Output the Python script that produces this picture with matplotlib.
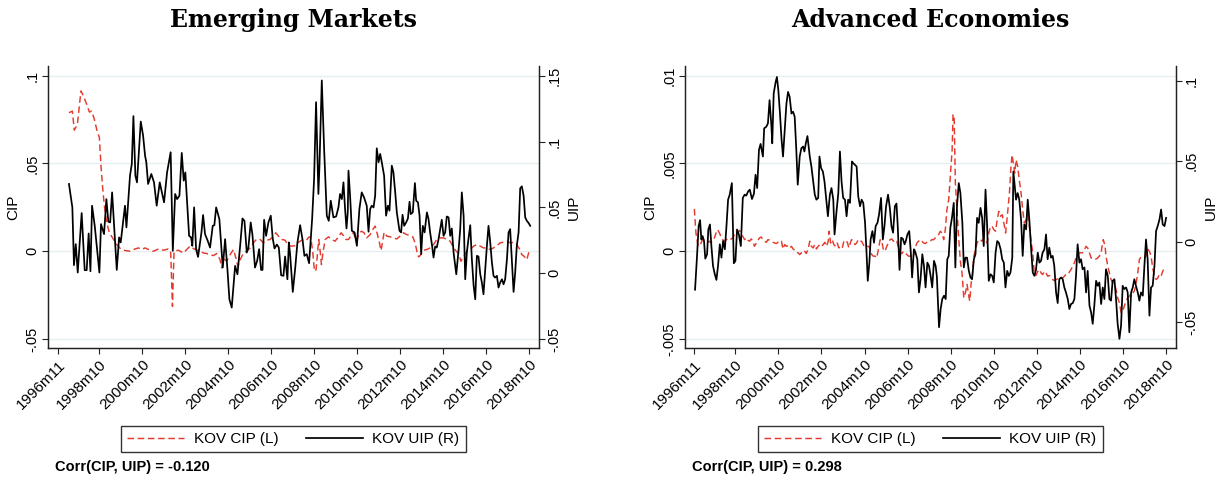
import numpy as np
import matplotlib
matplotlib.use("Agg")
import matplotlib.pyplot as plt

# ---------------- data (months since 1996m11) ----------------
xtick_months = [0, 23, 47, 71, 95, 119, 143, 167, 191, 215, 239, 263]
xtick_labels = ["1996m11", "1998m10", "2000m10", "2002m10", "2004m10", "2006m10",
                "2008m10", "2010m10", "2012m10", "2014m10", "2016m10", "2018m10"]

# Emerging markets: KOV CIP (left axis)
em_cip_m = [6.1, 8.0, 9.1, 10.8, 12.8, 14.2, 16.0, 17.5, 18.8, 20.3, 21.6, 23.1, 24.0, 25.0, 25.9,
            27.2, 28.7, 30.5, 32.8, 35.0, 37.4, 40.2, 43.0, 44.9, 46.7, 48.6, 50.5, 53.3, 56.1,
            58.8, 61.6, 62.9, 63.9, 64.8, 67.2, 70.0, 71.9, 73.7, 76.0, 78.4, 81.2, 84.0,
            84.9, 86.8, 88.6, 90.5, 91.4, 92.7, 94.2, 96.1, 98.0, 99.3, 100.4, 101.7, 103.6,
            105.4, 107.3, 109.1, 111.0, 112.9, 114.7, 116.6, 118.4, 120.3, 121.6, 123.1, 125.0,
            126.8, 128.7, 130.5, 132.4, 134.3, 136.1, 138.0, 139.3, 140.2, 141.2, 142.3, 143.2,
            144.1, 144.9, 145.6, 146.4, 147.1, 147.9, 149.2, 151.0, 152.9, 154.7, 156.6, 158.1,
            159.4, 160.7, 162.2, 163.7, 164.9, 166.8, 168.1, 169.6, 170.9, 172.4,
            174.3, 175.8, 177.1, 178.4, 179.5, 180.4, 181.4, 182.1, 183.6, 185.5, 187.3, 189.2,
            191.0, 192.9, 194.7, 196.6, 198.1, 199.4, 200.4, 201.3, 202.2, 204.1, 206.0, 207.8,
            209.7, 211.5, 213.4, 215.3, 217.1, 219.0, 220.9, 222.4, 223.7, 225.0, 226.5, 228.3,
            230.2, 232.1, 233.9, 235.8, 237.6, 239.5, 241.3, 243.2, 245.1, 246.9, 248.8, 250.7,
            252.5, 254.4, 256.2, 257.7, 259.0, 260.3, 261.8, 262.8, 263.7]
em_cip_v = [0.0789, 0.0798, 0.0690, 0.0722, 0.0913, 0.0884, 0.0837, 0.0793, 0.0798, 0.0751, 0.0694,
            0.0646, 0.0485, 0.0352, 0.0257, 0.0162, 0.0105, 0.0076, 0.0038, 0.0013, 0.0004, 0.0,
            0.0013, 0.0019, 0.0010, 0.0019, 0.0010, 0.0, 0.0013, 0.0006, 0.0013, 0.0, -0.0314, 0.0,
            0.0006, -0.0010, 0.0010, 0.0029, 0.0013, 0.0004, -0.0010, -0.0015,
            -0.0019, -0.0025, -0.0013, -0.0048, -0.0095, -0.0044, -0.0057, -0.0019, 0.0010, -0.0038,
            -0.0086, -0.0048, -0.0010, 0.0, 0.0019, 0.0048, 0.0070, 0.0067, 0.0048, 0.0063, 0.0067,
            0.0086, 0.0105, 0.0086, 0.0067, 0.0063, 0.0032, 0.0029, 0.0032, 0.0051, 0.0063, 0.0057,
            0.0070, 0.0082, 0.0076, -0.0010, -0.0114, -0.0105, -0.0010, 0.0067, 0.0, -0.0076,
            -0.0010, 0.0067, 0.0082, 0.0067, 0.0057, 0.0082, 0.0105, 0.0089, 0.0067, 0.0067, 0.0089,
            0.0105, 0.0057, 0.0105, 0.0114, 0.0105, 0.0076,
            0.0095, 0.0124, 0.0143, 0.0095, 0.0048, 0.0004, 0.0067, 0.0108, 0.0086, 0.0082, 0.0076,
            0.0070, 0.0086, 0.0105, 0.0095, 0.0089, 0.0082, 0.0048, 0.0, -0.0032, -0.0025, 0.0006,
            0.0010, 0.0019, 0.0038, 0.0067, 0.0076, 0.0076, 0.0067, 0.0057, 0.0019, 0.0, -0.0013,
            -0.0057, -0.0029, 0.0, 0.0010, 0.0029, 0.0038, 0.0029, 0.0019, 0.0019, 0.0010, 0.0019,
            0.0032, 0.0048, 0.0051, 0.0057, 0.0048, 0.0051, 0.0038, 0.0013, -0.0019, -0.0029,
            -0.0048, -0.0010, 0.0]

# Emerging markets: KOV UIP (right axis)
em_uip_m = [6.1, 8.0, 8.9, 9.9, 11.0, 13.2, 14.9, 16.0, 17.1, 18.1, 19.0, 20.5, 23.1, 24.0, 25.7,
            27.0, 28.1, 29.1, 30.2, 32.8, 34.1, 35.0, 37.4, 38.2, 40.2, 41.2, 42.1, 43.2, 44.1,
            46.2, 47.5, 48.6, 49.3, 50.3, 52.1, 53.6, 55.1, 56.8, 59.2, 60.9, 62.9, 64.1, 65.4,
            66.5, 67.8, 69.1, 70.2, 71.1, 73.2, 74.3, 75.0, 76.0, 77.1, 78.2, 80.1, 81.0, 82.1,
            83.6, 84.9,
            86.4, 87.3, 88.3, 90.1, 92.0, 93.3, 94.6, 95.7, 97.0, 98.9, 100.2, 101.7, 103.0, 104.1,
            105.4, 106.3, 107.6, 108.6, 110.0, 111.2, 112.3, 113.4, 114.2, 115.1, 116.2, 117.5,
            118.8, 119.9, 120.9, 122.2, 123.3, 124.6, 125.9, 126.8, 128.1, 128.9, 129.6, 131.1,
            132.4, 133.7, 135.2, 136.5, 137.6, 138.9, 140.2, 141.9, 143.0, 144.1, 145.4, 146.0,
            147.3, 148.6, 150.1, 151.2, 152.3, 153.8, 155.3, 156.6, 157.5, 158.5, 159.4, 160.3,
            161.1, 161.8, 162.2, 163.1, 164.1, 165.6, 166.9, 168.3, 169.6, 170.9, 172.4, 173.4,
            174.3, 175.2, 176.2, 177.1, 178.0, 179.0, 179.9, 180.8, 182.1, 183.2, 184.2, 185.1,
            186.4, 187.3, 188.3, 189.2, 190.7, 191.6, 192.4, 193.3, 194.4, 195.4, 196.3, 197.0,
            198.1, 199.3, 200.0, 201.0, 201.9, 202.8, 203.7, 204.7, 206.0, 206.9, 207.8, 208.9,
            209.7, 210.6, 211.5, 212.5, 213.4, 214.3, 215.3, 216.2, 217.1, 218.1, 219.0, 219.9,
            220.9, 221.8, 222.4, 223.7, 224.6, 225.5, 226.5, 227.4, 228.3, 229.2, 230.2, 231.1,
            232.1, 233.0, 233.9, 234.8, 235.8, 236.7, 237.6, 238.5, 239.5, 240.4, 241.3, 242.3,
            243.2, 244.1, 245.1, 246.0, 246.9, 247.9, 248.8, 249.7, 250.7, 251.6, 252.5, 253.5,
            254.4, 255.3, 256.2, 257.2, 258.1, 259.0, 260.0, 260.9, 261.8, 262.8, 263.7]
em_uip_v = [0.0678, 0.0500, 0.0061, 0.0221, 0.0005, 0.0457, 0.0023, 0.0023, 0.0302, 0.0015, 0.0513,
            0.0360, 0.0005, 0.0373, 0.0297, 0.0563, 0.0391, 0.0386, 0.0614, 0.0025, 0.0272, 0.0234,
            0.0513, 0.0348, 0.0741, 0.0830, 0.1193, 0.0741, 0.0690, 0.1152, 0.1046, 0.0893, 0.0843,
            0.0678, 0.0754, 0.0690, 0.0513, 0.0690, 0.0538, 0.0766, 0.0919, 0.0170, 0.0602, 0.0563,
            0.0589, 0.0914, 0.0703, 0.0766, 0.0284, 0.0272, 0.0208, 0.0500, 0.0183, 0.0124, 0.0310,
            0.0442, 0.0297, 0.0246, 0.0195,
            0.0360, 0.0365, 0.0500, 0.0411, 0.0043, 0.0259, 0.0030, -0.0198, -0.0261, 0.0056,
            -0.0008, 0.0208, 0.0416, 0.0398, 0.0157, 0.0195, 0.0386, 0.0289, 0.0043, 0.0094, 0.0183,
            0.0025, 0.0025, 0.0406, 0.0284, 0.0386, 0.0437, 0.0264, 0.0188, 0.0218, 0.0195, -0.0015,
            -0.0020, 0.0127, -0.0046, 0.0234, 0.0145, -0.0142, 0.0030, 0.0234, 0.0365, 0.0259,
            0.0132, 0.0145, 0.0076, 0.0411, 0.0716, 0.1299, 0.0602, 0.0817, 0.1464, 0.0944, 0.0437,
            0.0398, 0.0551, 0.0424, 0.0431, 0.0500, 0.0602, 0.0563, 0.0690, 0.0487, 0.0340, 0.0462,
            0.0779, 0.0589, 0.0322, 0.0310, 0.0208, 0.0487, 0.0614, 0.0576, 0.0513, 0.0315,
            0.0487, 0.0513, 0.0500, 0.0589, 0.0949, 0.0843, 0.0906, 0.0843, 0.0741, 0.0437, 0.0513,
            0.0475, 0.0817, 0.0766, 0.0614, 0.0462, 0.0322, 0.0310, 0.0444, 0.0360, 0.0386, 0.0416,
            0.0543, 0.0449, 0.0462, 0.0685, 0.0551, 0.0538, 0.0437, 0.0145, 0.0360, 0.0310, 0.0462,
            0.0411, 0.0310, 0.0208, 0.0119, 0.0203, 0.0195, 0.0259, 0.0335, 0.0406, 0.0284, 0.0310,
            0.0431, 0.0424, 0.0284, 0.0340, 0.0157, 0.0056, -0.0008, 0.0178, 0.0335, 0.0614, 0.0437,
            -0.0046, 0.0157, 0.0259, 0.0365, 0.0107, -0.0096, -0.0198, 0.0132, 0.0127, -0.0008,
            -0.0071, -0.0160, 0.0018, 0.0208, 0.0360, 0.0246, 0.0081, -0.0020, -0.0033, -0.0020,
            -0.0109, -0.0071, -0.0046, -0.0084, -0.0046, 0.0107, 0.0310, 0.0335, 0.0081, -0.0142,
            0.0005, 0.0208, 0.0310, 0.0645, 0.0660, 0.0589, 0.0424, 0.0398, 0.0381, 0.0360]

# Advanced economies: KOV CIP (left axis), in units of 1e-4
adv_cip_m = [0.2, 1.1, 2.1, 3.0, 3.9, 4.8, 5.8, 6.7, 7.6, 8.6, 9.5, 10.4, 11.4, 12.3, 13.2, 14.2,
             15.1, 16.0, 17.0, 17.9, 18.8, 19.8, 20.7, 21.6, 22.6, 23.5, 24.4, 25.4, 26.3, 27.2,
             28.2, 29.1, 30.0, 30.9, 31.9, 32.8, 33.7, 34.7, 35.6, 36.5, 37.5, 38.4, 39.3, 40.3,
             41.2, 42.1, 43.1, 44.0, 44.9, 45.9, 46.8, 47.7, 48.7, 49.6, 50.5, 51.5, 52.4, 53.3,
             54.3, 55.2, 56.1, 57.0, 58.0, 58.9, 59.8, 60.8, 61.7, 62.6, 63.6, 64.5, 65.4, 66.4,
             67.3, 68.2, 69.2, 70.1, 71.0, 72.0, 72.9, 73.8, 74.8, 75.3, 76.1, 77.0, 77.9, 78.9,
             79.8, 80.7, 81.7, 82.6, 83.5, 84.5, 85.4, 86.3, 87.2,
             87.8, 88.7, 89.7, 90.6, 91.5, 92.5, 93.4, 94.3, 95.3, 96.2, 97.1, 98.1, 99.0, 99.9,
             100.9, 101.8, 102.7, 103.7, 104.6, 105.5, 106.4, 107.4, 108.3, 109.2, 110.2, 111.1,
             112.0, 113.0, 113.9, 114.8, 115.8, 116.7, 117.6, 118.6, 119.5, 120.4, 121.4, 122.3,
             123.2, 124.2, 125.1, 126.0, 127.0, 127.9, 128.8, 129.8, 130.7, 131.6, 132.5, 133.5,
             134.4, 135.3, 136.3, 137.2, 138.1, 139.1, 140.0, 140.9, 141.9, 142.8, 143.8, 144.3,
             144.9, 145.6, 146.5, 147.5, 148.4, 149.3, 150.3, 151.2, 152.1, 153.1, 153.6, 154.4,
             155.1, 155.9, 156.8, 157.7, 158.6, 159.6, 160.5, 161.4, 162.4, 163.3, 164.2, 165.2,
             166.1, 167.0, 168.0, 168.9, 169.8, 170.8, 171.7, 172.6, 173.6,
             173.8, 174.7, 175.7, 176.6, 177.2, 177.9, 178.7, 179.4, 180.3, 181.2, 182.2, 183.1,
             184.0, 185.0, 185.9, 186.8, 187.7, 188.7, 189.6, 190.5, 191.5, 192.4, 193.3, 194.2,
             195.2, 196.1, 197.0, 197.9, 198.9, 199.8, 200.7, 201.7, 202.6, 203.5, 204.5, 205.4,
             206.3, 207.2, 208.2, 209.1, 210.0, 211.0, 211.9, 212.8, 213.7, 214.7, 215.6, 216.5,
             217.5, 218.4, 219.3, 220.3, 221.2, 222.1, 223.0, 224.0, 224.9, 225.8, 226.8, 227.3,
             228.0, 229.0, 229.5, 230.5, 231.4, 232.3, 233.2, 234.2, 235.1, 236.0, 237.0, 237.9,
             238.8, 239.7, 240.7, 241.6, 242.5, 243.5, 244.4, 245.3, 246.2, 247.2, 248.1, 249.0,
             250.0, 250.9, 251.8, 252.7, 253.7, 254.6, 255.5, 256.5, 257.4, 258.3, 259.3, 260.2,
             261.1, 262.1]
adv_cip_v_1e4 = [24.1, 10.4, 3.8, 2.8, 4.7, 6.6, 6.3, 5.7, 5.1, 5.7,
                 4.7, 6.6, 7.6, 10.4, 12.3, 10.4, 8.1, 6.6, 5.7, 6.6,
                 7.0, 6.3, 7.0, 7.6, 9.5, 11.4, 10.8, 11.9, 9.5, 8.5,
                 6.6, 7.6, 6.3, 5.7, 7.0, 5.7, 2.8, 4.7, 6.3, 7.6,
                 8.1, 6.6, 5.7, 5.1, 6.6, 6.3, 5.7, 5.1, 4.7, 4.4,
                 5.1, 4.7, 5.7, 1.3, 3.8, 2.8, 3.2, 1.9, 2.8, 1.3,
                 0.6, -0.6, -0.9, -1.9, -0.9, -1.3, 0.0, -1.3, 1.3, 5.7,
                 2.8, 1.9, 3.8, 1.3, 2.8, 3.8, 2.8, 3.8, 5.1, 2.8,
                 5.7,
                 11.4, 4.7, 6.6, 3.8, 2.8, 4.7, 1.9, 2.8, 1.9, 5.7, 6.3, 5.1, 1.9, 5.1,
                 6.6, 5.7, 3.8, 4.7, 6.6, 5.7, 5.7, 3.8, 1.9, 2.8,
                 2.8, 1.9, -1.9, -2.8, -2.8, -3.8, 0.9, 6.6, 5.7, 0.9,
                 0.0, 2.8, 4.7, 6.6, 7.0, 5.7, 6.6, 5.7, 1.9, -0.9,
                 -1.3, 0.0, -0.9, -1.9, -2.8, -2.8, -1.9, -2.8, 1.9, 4.7,
                 5.7, 6.6, 5.7, 4.7, 4.4, 5.1, 5.1, 5.7, 6.6, 6.6,
                 7.6, 8.5, 9.5, 11.4, 10.4, 6.6, 12.3, 23.7, 29.4, 42.6,
                 57.8, 77.7, 77.7, 38.8, 23.7, 6.6, -5.7, -12.3, -26.5, -23.7,
                 -18.9, -25.6, -28.4, -18.0, -13.3, -2.8, 0.9, 4.7, 6.6, 6.6,
                 5.7, 7.6, 5.7, 4.7, 10.4, 14.2, 14.2, 12.3, 11.4, 18.0,
                 22.7, 19.9, 20.8, 16.1, 10.4,
                 12.3, 21.8, 33.1, 48.3, 54.9, 50.2, 44.5, 52.1, 48.3, 40.7,
                 33.1, 23.7, 16.1, 18.0, 20.8, 14.2, 6.6, -0.9, -13.3, -13.8,
                 -11.4, -10.4, -12.3, -13.3, -11.4, -12.3, -14.2, -13.8, -14.6, -16.1,
                 -16.7, -16.1, -15.7, -16.1, -15.2, -15.2, -14.2, -13.3, -13.3, -11.9,
                 -10.4, -8.5, -6.6, -3.8, -1.9, -0.9, -0.9, -0.9, 0.9, 2.8,
                 1.9, -0.9, -3.8, -4.4, -4.7, -4.4, -3.8, -2.8, -0.9, 2.8,
                 6.6, 2.8, -2.8, -8.5, -12.3, -16.1, -18.0, -18.9, -21.8, -26.5,
                 -29.4, -35.0, -34.1, -31.3, -28.4, -26.5, -25.6, -23.7, -23.7, -22.7,
                 -18.9, -12.3, -4.7, -3.2, -3.8, -3.8, -2.8, 1.3, 0.0, -2.8,
                 -9.5, -14.2, -16.1, -15.2, -13.3, -14.2, -11.4, -9.5]

# Advanced economies: KOV UIP (right axis)
adv_uip_m = [0.6, 1.7, 2.6, 3.4, 4.1, 4.8, 5.6, 6.3, 7.3, 8.0, 8.9, 9.7, 10.6, 11.6, 12.5, 13.4,
             14.4, 15.3, 16.2, 17.2, 18.1, 19.0, 19.9, 21.1, 22.2, 23.1, 24.0, 25.0, 26.1, 27.2,
             28.2, 29.1, 30.2, 31.1, 32.3, 33.4, 34.3, 35.2, 36.2, 37.1, 38.4, 39.1, 40.3, 41.2,
             42.1, 43.1, 43.6, 44.4, 45.5, 46.2, 47.0, 47.9, 48.8, 49.6, 50.5, 51.5, 52.4, 53.3,
             54.3, 55.2, 56.1, 57.0, 57.8, 58.9, 59.8, 60.8, 61.5, 62.3, 63.2, 64.5, 65.4, 66.4,
             67.3, 68.2, 69.2, 69.9, 70.8, 71.8, 72.7, 73.6, 74.6, 75.7, 76.6, 77.6, 78.3, 79.4,
             80.4, 81.3, 82.2, 83.1, 84.1, 85.0, 85.9, 86.9,
             88.0, 88.7, 89.7, 90.6, 91.5, 92.5, 93.4, 94.3, 95.3, 96.2, 96.8, 97.7, 98.4, 99.4,
             100.3, 101.2, 102.2, 103.1, 104.2, 105.2, 106.1, 107.0, 108.1, 109.1, 110.0, 110.9,
             111.9, 112.8, 113.5, 114.5, 115.4, 116.3, 117.3, 118.0, 118.9, 119.9, 120.8, 121.5,
             122.5, 123.4, 124.4, 125.3, 126.2, 127.2, 128.1, 129.0, 130.0, 130.9, 131.8, 132.7,
             133.7, 134.6, 135.3, 136.5, 137.4, 138.3, 139.3, 140.2, 141.1, 141.9, 142.8, 143.7,
             144.7, 145.6, 146.5, 147.5, 148.4, 149.5, 150.3, 151.2, 152.1, 153.1, 154.0, 154.9,
             155.9, 156.8, 157.7, 158.6, 159.6, 160.5, 161.4, 162.4, 163.3, 164.2, 165.2, 166.1,
             167.0, 168.0, 168.9, 169.8, 170.8, 171.7, 172.6, 173.5, 174.5, 175.4, 176.3, 177.3,
             177.9, 178.7, 179.4, 180.3, 181.2, 182.2, 183.1, 184.0, 185.0, 185.9, 186.8, 187.7,
             188.7, 189.6, 190.5, 191.5, 192.4, 193.3, 194.2, 195.2, 196.1, 197.0, 197.9, 198.9,
             199.8, 200.7, 201.7, 202.6, 203.5, 204.5, 205.4, 206.3, 207.2, 208.2, 209.1, 210.0,
             211.0, 211.9, 212.8, 213.7, 214.7, 215.6, 216.5, 217.5, 218.4, 219.3, 220.3, 221.2,
             222.1, 223.0, 224.0, 224.9, 225.8, 226.8, 227.7, 228.6, 229.5, 230.5, 231.4, 232.3,
             233.2, 234.2, 235.1, 236.0, 237.0, 237.9, 238.8, 239.7, 240.7, 241.6, 242.5, 243.5,
             244.4, 245.3, 246.2, 247.2, 248.1, 249.0, 250.0, 250.9, 251.8, 252.7, 253.7, 254.6,
             255.5, 256.5, 257.4, 258.3, 259.3, 260.2, 261.1, 262.1, 263.0]
adv_uip_v = [-0.0298, -0.0088, 0.0097, 0.0134, 0.0014, 0.0035, 0.0004, -0.0105, -0.0078, 0.0076,
             0.0107, -0.0027, -0.0150, -0.0202, -0.0237, -0.0150, -0.0016, -0.0099, 0.0004, -0.0047,
             0.0097, 0.0261, 0.0292, 0.0364, -0.0134, -0.0119, 0.0076, 0.0045, -0.0027, 0.0272,
             0.0292, 0.0286, 0.0313, 0.0323, 0.0265, 0.0298, 0.0416, 0.0333, 0.0570, 0.0607,
             0.0529, 0.0704, 0.0714, 0.0735, 0.0879, 0.0724, 0.0611, 0.0920, 0.0992, 0.1023,
             0.0940, 0.0796, 0.0632, 0.0529, 0.0683, 0.0858, 0.0930, 0.0899, 0.0796, 0.0807,
             0.0776, 0.0570, 0.0354, 0.0529, 0.0580, 0.0591, 0.0560, 0.0611, 0.0656, 0.0529,
             0.0467, 0.0374, 0.0292, 0.0261, 0.0272, 0.0529, 0.0457, 0.0436, 0.0374, 0.0272,
             0.0158, 0.0292, 0.0333, 0.0261, 0.0045, 0.0189, 0.0302, 0.0560, 0.0374, 0.0272,
             0.0261, 0.0158, 0.0261, 0.0241,
             0.0498, 0.0488, 0.0477, 0.0467, 0.0282, 0.0220, 0.0261, 0.0241, 0.0117, -0.0088,
             -0.0243, -0.0130, 0.0014, 0.0066, -0.0006, 0.0097, 0.0117, 0.0169, 0.0272, 0.0014,
             0.0097, 0.0220, 0.0292, 0.0210, 0.0097, 0.0056, 0.0220, 0.0237, 0.0097, -0.0175,
             0.0025, 0.0019, -0.0016, 0.0004, 0.0045, 0.0066, -0.0068, -0.0222, -0.0047, -0.0068,
             -0.0109, -0.0315, -0.0233, -0.0078, -0.0150, -0.0284, -0.0130, -0.0150, -0.0212,
             -0.0284, -0.0119, -0.0150, -0.0216, -0.0531, -0.0418, -0.0356, -0.0335, -0.0356,
             -0.0109, -0.0088, 0.0086, 0.0148, 0.0241, -0.0160, 0.0220, 0.0364, 0.0302, 0.0117,
             -0.0160, -0.0099, -0.0099, -0.0181, -0.0222, -0.0233, -0.0109, -0.0078, 0.0148,
             0.0117, 0.0210, 0.0148, -0.0027, 0.0323, 0.0097, -0.0243, -0.0202, -0.0212, -0.0253,
             -0.0068, 0.0004, -0.0006, -0.0047, -0.0109, -0.0130, -0.0284, -0.0181, -0.0212,
             -0.0191, -0.0099,
             0.0436, 0.0344, 0.0261, 0.0302, 0.0261, 0.0138, -0.0088, 0.0107, 0.0076, 0.0261,
             0.0138, -0.0027, -0.0191, -0.0212, -0.0175, -0.0068, -0.0130, -0.0119, -0.0068,
             -0.0047, 0.0045, -0.0109, -0.0037, -0.0099, -0.0088, -0.0150, -0.0315, -0.0381,
             -0.0233, -0.0222, -0.0233, -0.0284, -0.0315, -0.0356, -0.0418, -0.0387, -0.0381,
             -0.0356, -0.0212, -0.0016, -0.0130, -0.0109, -0.0171, -0.0160, -0.0315, -0.0181,
             -0.0397, -0.0438, -0.0510, -0.0397, -0.0243, -0.0274, -0.0253, -0.0387, -0.0284,
             -0.0356, -0.0171, -0.0212, -0.0356, -0.0366, -0.0243, -0.0233, -0.0356, -0.0510,
             -0.0603, -0.0521, -0.0274, -0.0294, -0.0284, -0.0315, -0.0562, -0.0315, -0.0284,
             -0.0233, -0.0274, -0.0315, -0.0366, -0.0315, -0.0335, -0.0150, 0.0014, -0.0109,
             -0.0459, -0.0284, -0.0274, -0.0150, 0.0066, 0.0097, 0.0138, 0.0200, 0.0107, 0.0097,
             0.0148]

em_cip_ticks = [-0.05, 0, 0.05, 0.1]
em_cip_ticklabels = ["-.05", "0", ".05", ".1"]
em_uip_ticks = [-0.05, 0, 0.05, 0.1, 0.15]
em_uip_ticklabels = ["-.05", "0", ".05", ".1", ".15"]
adv_cip_ticks = [-0.005, 0, 0.005, 0.01]
adv_cip_ticklabels = ["-.005", "0", ".005", ".01"]
adv_uip_ticks = [-0.05, 0, 0.05, 0.1]
adv_uip_ticklabels = ["-.05", "0", ".05", ".1"]

titles = ["Emerging Markets", "Advanced Economies"]
corr_texts = ["Corr(CIP, UIP) = -0.120", "Corr(CIP, UIP) = 0.298"]
legend_labels = ["KOV CIP (L)", "KOV UIP (R)"]

# ---------------- style ----------------
SANS = ["Liberation Sans", "DejaVu Sans"]
plt.rcParams["font.family"] = SANS
RED = "#e33b2e"
GRID = "#e6eef0"
TICKFS = 10.5

W, H = 1225, 483
fig = plt.figure(figsize=(W / 100, H / 100), dpi=100)


def panel(x0, cip_m, cip_v, uip_m, uip_v, cip_ticks, cip_tl, uip_ticks, uip_tl,
          cip_lim, uip_lim, xlim, title, corr, corr_x):
    ax = fig.add_axes([x0 / W, 1 - 348 / H, 491 / W, 282 / H])
    ax2 = ax.twinx()
    ax.set_zorder(1)
    ax2.set_zorder(2)
    ax.patch.set_visible(False)
    ax2.patch.set_visible(False)

    l1, = ax.plot(cip_m, cip_v, color=RED, lw=1.05, ls=(0, (4.5, 2.5)),
                  label=legend_labels[0])
    l2, = ax2.plot(uip_m, uip_v, color="black", lw=1.25, label=legend_labels[1])

    ax.set_xlim(*xlim)
    ax.set_ylim(*cip_lim)
    ax2.set_ylim(*uip_lim)

    ax.set_yticks(cip_ticks)
    ax.set_yticklabels(cip_tl, rotation=90, va="center", fontsize=TICKFS)
    ax2.set_yticks(uip_ticks)
    ax2.set_yticklabels(uip_tl, rotation=90, va="center", fontsize=TICKFS)
    ax.set_xticks(xtick_months)
    ax.set_xticklabels(xtick_labels, rotation=45, ha="right", va="top",
                       rotation_mode="anchor", fontsize=11)

    for t in cip_ticks:
        ax.axhline(t, color=GRID, lw=1.0, zorder=0)

    for a in (ax, ax2):
        a.spines["top"].set_visible(False)
        for s in ("left", "right", "bottom"):
            a.spines[s].set_color("#222222")
            a.spines[s].set_linewidth(0.9)
        a.tick_params(length=4, width=0.8, color="#222222", pad=2)
    ax.tick_params(axis="x", pad=3)

    ax.set_ylabel("CIP", fontsize=TICKFS + 0.5, labelpad=4)
    ax2.set_ylabel("UIP", fontsize=TICKFS + 0.5, labelpad=4, rotation=90)

    cx = (x0 + 245.5) / W
    fig.text(cx, 1 - 20 / H, title, ha="center", va="center", fontsize=17,
             fontweight="bold", family=["DejaVu Serif"])
    fig.legend([l1, l2], legend_labels, loc="center", bbox_to_anchor=(cx, 1 - 439 / H),
               ncol=2, fontsize=11, frameon=True, fancybox=False, edgecolor="#333333",
               framealpha=1, handlelength=3.7, handletextpad=0.65, columnspacing=1.8,
               borderpad=0.4)
    fig.text(corr_x / W, 1 - 467 / H, corr, ha="left", va="center", fontsize=10.5,
             fontweight="bold")


panel(48, em_cip_m, em_cip_v, em_uip_m, em_uip_v,
      em_cip_ticks, em_cip_ticklabels, em_uip_ticks, em_uip_ticklabels,
      (-0.0551, 0.1055), (-0.0568, 0.1574), (-5.6, 268.6),
      titles[0], corr_texts[0], 55)

panel(685, adv_cip_m, np.array(adv_cip_v_1e4) * 1e-4, adv_uip_m, adv_uip_v,
      adv_cip_ticks, adv_cip_ticklabels, adv_uip_ticks, adv_uip_ticklabels,
      (-0.00551, 0.01055), (-0.066, 0.1091), (-5.0, 268.5),
      titles[1], corr_texts[1], 692)

fig.savefig("out.png", dpi=100)
